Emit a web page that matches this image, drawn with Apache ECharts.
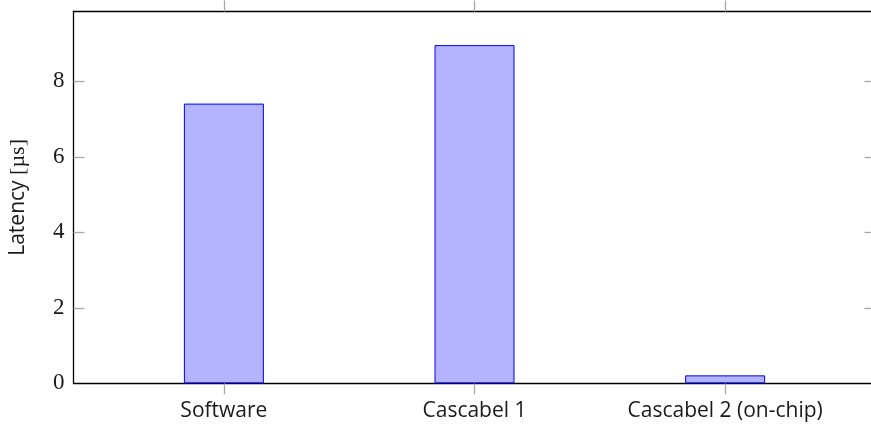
<!DOCTYPE html>
<html>
<head>
<meta charset="utf-8">
<script src="https://cdn.jsdelivr.net/npm/echarts@6/dist/echarts.min.js"></script>
<style>
  html, body { margin: 0; padding: 0; background: #fff; }
  #chart { width: 871px; height: 431px; }
</style>
</head>
<body>
<div id="chart"></div>
<script>
// Latency per implementation, in microseconds
const categories = ['Software', 'Cascabel 1', 'Cascabel 2 (on-chip)'];
const latencyUs = [7.41, 8.96, 0.21];
const yTicks = [0, 2, 4, 6, 8];

const positions = categories.map((_, i) => i);
const barData = latencyUs.map((v, i) => [positions[i], v]);
// tick marks sit on the frame only above zero; the baseline stays solid black
const yTickMarks = yTicks.filter(v => v > 0);

const tickGrey = '#a8a8a8';
const serif = '"Liberation Serif", "DejaVu Serif", serif';
const sans = '"Open Sans", "DejaVu Sans", sans-serif';

const chart = echarts.init(document.getElementById('chart'), null, { renderer: 'canvas' });

const xCommon = {
  type: 'value',
  min: -0.6,
  max: 2.6,
  splitLine: { show: false },
  axisLine: { show: true, onZero: false, lineStyle: { color: '#000', width: 1.3 } },
  axisTick: {
    show: true,
    inside: false,
    length: 11,
    customValues: positions,
    lineStyle: { color: tickGrey, width: 1.3 }
  }
};

const yCommon = {
  type: 'value',
  min: 0,
  max: 9.85,
  interval: 2,
  splitLine: { show: false },
  axisLine: { show: true, onZero: false, lineStyle: { color: '#000', width: 1.3 } },
  axisTick: {
    show: true,
    inside: true,
    length: 11,
    customValues: yTickMarks,
    lineStyle: { color: tickGrey, width: 1.3 }
  }
};

chart.setOption({
  animation: false,
  backgroundColor: '#fff',
  grid: {
    left: 73.5,
    top: 11.5,
    right: -4.5,
    bottom: 47.7,
    containLabel: false,
    outerBoundsMode: 'none'
  },
  xAxis: [
    Object.assign({}, xCommon, {
      position: 'bottom',
      axisLabel: {
        show: true,
        customValues: positions,
        formatter: v => categories[Math.round(v)],
        fontFamily: sans,
        fontSize: 21,
        color: '#1a1a1a',
        margin: 17
      }
    }),
    Object.assign({}, xCommon, {
      position: 'top',
      axisLabel: { show: false }
    })
  ],
  yAxis: [
    Object.assign({}, yCommon, {
      position: 'left',
      name: '{a|Latency }{b|[µs]}',
      nameLocation: 'middle',
      nameGap: 44,
      nameRotate: 90,
      nameTextStyle: {
        rich: {
          a: { fontFamily: sans, fontSize: 21, color: '#1a1a1a' },
          b: { fontFamily: serif, fontSize: 22, color: '#1a1a1a' }
        }
      },
      axisLabel: {
        show: true,
        customValues: yTicks,
        fontFamily: serif,
        fontSize: 23,
        color: '#1a1a1a',
        margin: 9
      }
    }),
    Object.assign({}, yCommon, {
      position: 'right',
      axisLabel: { show: false }
    })
  ],
  series: [{
    type: 'bar',
    xAxisIndex: 0,
    yAxisIndex: 0,
    data: barData,
    barWidth: 80,
    itemStyle: {
      color: '#b3b3ff',
      borderColor: '#0000ff',
      borderWidth: 1
    }
  }]
});
</script>
</body>
</html>
